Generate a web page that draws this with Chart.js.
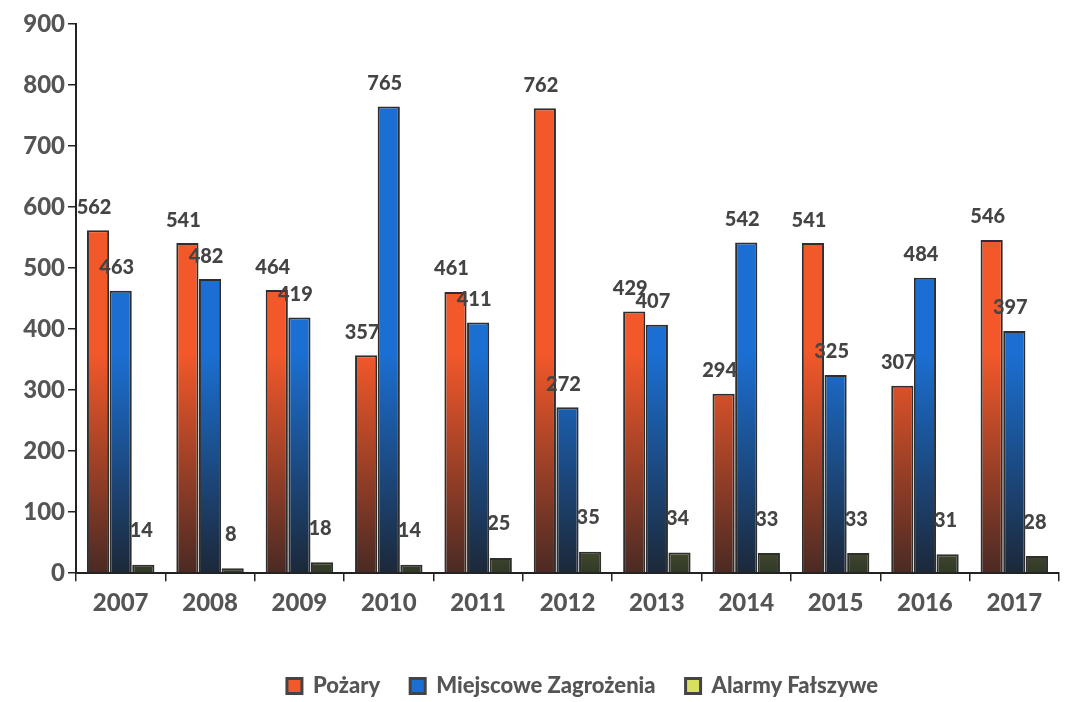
<!DOCTYPE html>
<html>
<head>
<meta charset="utf-8">
<script src="https://cdn.jsdelivr.net/npm/chart.js@4"></script>
<style>
  html, body { margin: 0; padding: 0; background: #fff; }
  #wrap { width: 1065px; height: 702px; }
</style>
</head>
<body>
<div id="wrap"><canvas id="graph" width="1065" height="702"></canvas></div>
<script>
const years = ['2007', '2008', '2009', '2010', '2011', '2012', '2013', '2014', '2015', '2016', '2017'];
const pozary = [562, 541, 464, 357, 461, 762, 429, 294, 541, 307, 546];
const miejscowe = [463, 482, 419, 765, 411, 272, 407, 542, 325, 484, 397];
const alarmy = [14, 8, 18, 14, 25, 35, 34, 33, 33, 31, 28];
const seriesNames = ['Pożary', 'Miejscowe Zagrożenia', 'Alarmy Fałszywe'];

const fontFam = 'Lato, "Open Sans", sans-serif';
const grey = '#555';

// gradient: colour at top, dark at the bottom
function grad(top, bottom) {
  return function(c) {
    const area = c.chart.chartArea;
    if (!area) return top;
    const g = c.chart.ctx.createLinearGradient(0, area.top, 0, area.bottom);
    g.addColorStop(0, top);
    g.addColorStop(0.6, top);
    g.addColorStop(1, bottom);
    return g;
  };
}

const valueLabels = {
  id: 'valueLabels',
  afterDatasetsDraw(chart) {
    const ctx = chart.ctx;
    ctx.save();
    ctx.font = '900 20px ' + fontFam;
    ctx.fillStyle = '#444';
    ctx.textAlign = 'center';
    ctx.textBaseline = 'bottom';
    chart.data.datasets.forEach((ds, i) => {
      chart.getDatasetMeta(i).data.forEach((bar, j) => {
        const x = bar.x - (i === 2 ? 2 : 4);
        const off = i === 2 ? 24 : 13;
        ctx.fillText(ds.data[j], x, bar.y - off);
      });
    });
    ctx.restore();
  }
};

// shrink the legend box a little so its row sits lower, and nudge it right
const legendLower = {
  id: 'legendLower',
  beforeInit(chart) {
    const fit = chart.legend.fit;
    chart.legend.fit = function() {
      fit.bind(chart.legend)();
      this.height -= 7;
    };
  },
  afterLayout(chart) {
    chart.legend.left += 50;
    chart.legend.right += 50;
  }
};

const ctx = document.getElementById('graph').getContext('2d');
new Chart(ctx, {
  type: 'bar',
  data: {
    labels: years,
    datasets: [{
      label: seriesNames[0],
      data: pozary,
      backgroundColor: grad('#f2582a', '#4a2a24'),
      borderColor: '#2e2e2e',
      borderWidth: 2
    }, {
      label: seriesNames[1],
      data: miejscowe,
      backgroundColor: grad('#1b6fd2', '#1c2838'),
      borderColor: '#2e2e2e',
      borderWidth: 2
    }, {
      label: seriesNames[2],
      data: alarmy,
      backgroundColor: grad('#d8e060', '#303828'),
      borderColor: '#2e2e2e',
      borderWidth: 2
    }]
  },
  options: {
    responsive: false,
    animation: false,
    layout: { padding: { top: 24, right: 6, left: 6, bottom: 2 } },
    datasets: { bar: { categoryPercentage: 0.76, barPercentage: 0.98 } },
    scales: {
      x: {
        grid: { display: true, offset: true, drawOnChartArea: false, color: '#222', tickLength: 8, lineWidth: 1.5 },
        border: { color: '#222', width: 2 },
        ticks: { color: grey, font: { family: fontFam, size: 24, weight: '900' }, padding: 8 },
        afterFit(scale) { scale.height += 19; }
      },
      y: {
        min: 0, max: 900,
        ticks: { stepSize: 100, color: grey, font: { family: fontFam, size: 24, weight: '900' }, padding: 3 },
        grid: { display: true, drawOnChartArea: false, color: '#222', tickLength: 8, lineWidth: 1.5 },
        border: { color: '#222', width: 2 },
        afterFit(scale) { scale.width = 70; }
      }
    },
    plugins: {
      legend: {
        position: 'bottom',
        labels: {
          color: grey,
          font: { family: fontFam, size: 22, weight: '900' },
          boxWidth: 15, boxHeight: 15,
          padding: 30,
          generateLabels(chart) {
            const cols = ['#f2582a', '#1b6fd2', '#d8e060'];
            return chart.data.datasets.map((ds, i) => ({
              text: ds.label, fillStyle: cols[i], strokeStyle: '#444', lineWidth: 3,
              fontColor: grey, datasetIndex: i, hidden: false
            }));
          }
        }
      },
      tooltip: { enabled: false }
    }
  },
  plugins: [valueLabels, legendLower]
});
</script>
</body>
</html>
